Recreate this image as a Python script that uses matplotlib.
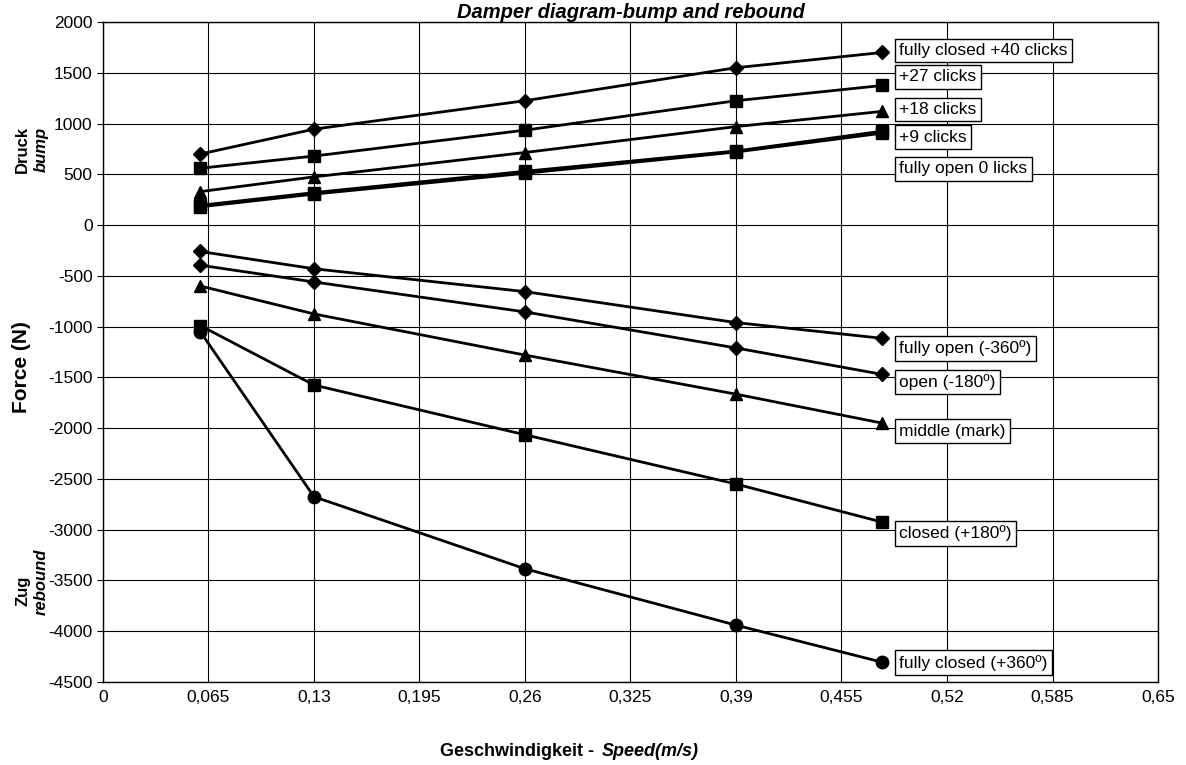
import matplotlib
matplotlib.use("Agg")
import matplotlib.pyplot as plt

plt.rcParams['font.family'] = ['Liberation Sans', 'DejaVu Sans']
plt.rcParams['axes.unicode_minus'] = False

# speed (m/s)
speed = [0.06, 0.13, 0.26, 0.39, 0.48]

# bump (Druck) series
bump_names = ['fully closed +40 clicks', '+27 clicks', '+18 clicks', '+9 clicks', 'fully open 0 licks']
bump_40 = [700, 945, 1225, 1550, 1700]
bump_27 = [560, 680, 935, 1225, 1375]
bump_18 = [330, 475, 715, 970, 1120]
bump_9 = [195, 320, 530, 730, 925]
bump_0 = [180, 305, 510, 720, 905]

# rebound (Zug) series
reb_names = ['fully open (-360º)', 'open (-180º)', 'middle (mark)', 'closed (+180º)', 'fully closed (+360º)']
reb_m360 = [-260, -430, -655, -960, -1115]
reb_m180 = [-395, -560, -855, -1210, -1470]
reb_mid = [-600, -875, -1280, -1665, -1950]
reb_p180 = [-990, -1575, -2065, -2550, -2925]
reb_p360 = [-1050, -2675, -3385, -3940, -4305]

# label box heights (data units) next to the end points
bump_label_y = [1720, 1460, 1140, 865, 555]
reb_label_y = [-1215, -1545, -2030, -3035, -4310]

xticks = [0, 0.065, 0.13, 0.195, 0.26, 0.325, 0.39, 0.455, 0.52, 0.585, 0.65]
xtick_labels = ['0', '0,065', '0,13', '0,195', '0,26', '0,325', '0,39', '0,455', '0,52', '0,585', '0,65']
yticks = list(range(-4500, 2001, 500))

fig = plt.figure(figsize=(11.86, 7.65), dpi=100)
ax = fig.add_axes([0.0868, 0.1085, 0.8896, 0.8627])

bump = [bump_40, bump_27, bump_18, bump_9, bump_0]
bump_mk = ['D', 's', '^', 's', 's']
for vals, mk in zip(bump, bump_mk):
    ax.plot(speed, vals, color='black', lw=2, marker=mk, ms=9 if mk != 'D' else 7.5, zorder=3)

reb = [reb_m360, reb_m180, reb_mid, reb_p180, reb_p360]
reb_mk = ['D', 'D', '^', 's', 'o']
for vals, mk in zip(reb, reb_mk):
    ax.plot(speed, vals, color='black', lw=2, marker=mk, ms=9 if mk != 'D' else 7.5, zorder=3)

box = dict(boxstyle='square,pad=0.25', fc='white', ec='black', lw=1)
for name, y in zip(bump_names + reb_names, bump_label_y + reb_label_y):
    ax.text(0.4905, y, name, fontsize=12.5, va='center', ha='left', bbox=box, zorder=4)

ax.set_xlim(0, 0.65)
ax.set_ylim(-4500, 2000)
ax.set_xticks(xticks)
ax.set_xticklabels(xtick_labels)
ax.set_yticks(yticks)
ax.tick_params(labelsize=12.5, length=4, color='black')
ax.tick_params(axis='x', pad=6, length=0)
ax.grid(True, color='black', lw=0.8)
for s in ax.spines.values():
    s.set_color('black')
    s.set_linewidth(1)

ax.set_title('Damper diagram-bump and rebound', fontsize=14.5, fontweight='bold', style='italic', pad=1)

# y axis labels
fig.text(0.018, 0.52, 'Force (N)', rotation=90, fontsize=15, fontweight='bold', va='center', ha='center')
fig.text(0.019, 0.805, 'Druck', rotation=90, fontsize=12, fontweight='bold', va='center', ha='center')
fig.text(0.035, 0.805, 'bump', rotation=90, fontsize=12, fontweight='bold', style='italic', va='center', ha='center')
fig.text(0.019, 0.228, 'Zug', rotation=90, fontsize=12, fontweight='bold', va='center', ha='center')
fig.text(0.035, 0.240, 'rebound', rotation=90, fontsize=12, fontweight='bold', style='italic', va='center', ha='center')

# x axis label
fig.text(0.505, 0.017, 'Geschwindigkeit - ', fontsize=13, fontweight='bold', ha='right', va='center')
fig.text(0.507, 0.017, 'Speed(m/s)', fontsize=13, fontweight='bold', style='italic', ha='left', va='center')

fig.savefig('out.png', dpi=100)
